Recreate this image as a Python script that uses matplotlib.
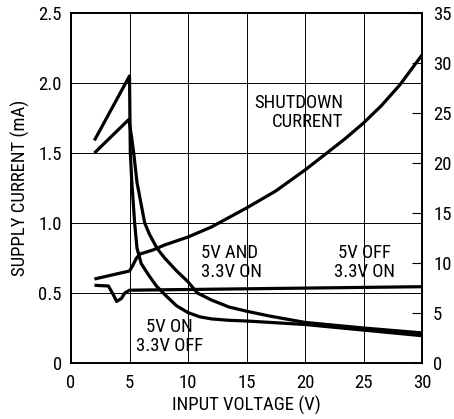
import matplotlib
matplotlib.use("Agg")
import matplotlib.pyplot as plt
from matplotlib import font_manager as fm

# ---- data ----
# upper-peak curve (steeper fall, lower tail)
va = [2, 5.0, 5.07, 5.2, 5.44, 5.64, 6.0, 6.7, 7.3, 8.0, 9.0, 10, 11, 12, 13.5, 15, 20, 25, 30]
ia = [1.59, 2.05, 1.50, 1.29, 1.00, 0.82, 0.71, 0.62, 0.55, 0.49, 0.41, 0.36, 0.33, 0.315, 0.305, 0.30, 0.275, 0.235, 0.195]
# lower-peak curve (slower fall, upper tail)
vb = [2, 4.95, 5.2, 5.36, 5.64, 6.3, 6.7, 7.35, 8.0, 9.0, 10, 10.8, 12, 13.5, 15, 17, 20, 25, 30]
ib = [1.50, 1.74, 1.60, 1.50, 1.29, 1.00, 0.92, 0.82, 0.75, 0.66, 0.58, 0.50, 0.45, 0.40, 0.37, 0.335, 0.29, 0.25, 0.215]
# "5V OFF / 3.3V ON" curve
vc = [2, 3.2, 3.6, 3.9, 4.3, 4.6, 5.0, 10, 20, 30]
ic = [0.555, 0.55, 0.49, 0.44, 0.46, 0.50, 0.52, 0.525, 0.535, 0.545]
# shutdown current (right axis, uA)
vs = [2, 5.0, 5.3, 5.6, 5.9, 7, 8, 10, 12, 15, 17.5, 20, 21.43, 23.4, 25, 26.5, 28.1, 30]
isd = [8.4, 9.2, 9.8, 10.5, 10.9, 11.3, 11.8, 12.6, 13.6, 15.5, 17.2, 19.3, 20.6, 22.4, 24.0, 25.7, 27.8, 30.8]

xticks = [0, 5, 10, 15, 20, 25, 30]
yticks = [0, 0.5, 1.0, 1.5, 2.0, 2.5]
ylabels = ["0", "0.5", "1.0", "1.5", "2.0", "2.5"]
rticks = [0, 5, 10, 15, 20, 25, 30, 35]

names = {f.name for f in fm.fontManager.ttflist}
fam = None
for cand in ['Liberation Sans Narrow', 'Roboto Condensed', 'Open Sans Condensed',
             'DejaVu Sans Condensed', 'Arial Narrow', 'Nimbus Sans Narrow']:
    if cand in names:
        fam = cand
        break
stretch = 'normal'
if fam is None:
    if any(f.name == 'DejaVu Sans' and f.stretch == 'condensed' for f in fm.fontManager.ttflist):
        fam = 'DejaVu Sans'
        stretch = 'condensed'
    else:
        fam = 'Liberation Sans'
plt.rcParams['font.family'] = [fam, 'DejaVu Sans']
plt.rcParams['font.stretch'] = stretch
FS = 13.5

fig = plt.figure(figsize=(4.54, 4.19), dpi=100)
ax = fig.add_axes([71/454, 1-363/419, (422-71)/454, (363-13)/419])
ax.set_xlim(0, 30)
ax.set_ylim(0, 2.5)
ax.set_xticks(xticks)
ax.set_yticks(yticks)
ax.set_yticklabels(ylabels)
ax.tick_params(axis='both', length=0, labelsize=FS, colors='black')
ax.tick_params(axis='x', pad=8)
ax.tick_params(axis='y', pad=6.5)
ax.grid(True, color='black', lw=0.7)
for s in ax.spines.values():
    s.set_linewidth(1.3)

lw = 2.3
ax.plot(va, ia, color='black', lw=lw, solid_joinstyle='round', solid_capstyle='butt', zorder=3)
ax.plot(vb, ib, color='black', lw=lw, solid_joinstyle='round', solid_capstyle='butt', zorder=3)
ax.plot(vc, ic, color='black', lw=lw, solid_joinstyle='round', solid_capstyle='butt', zorder=3)

ax2 = ax.twinx()
ax2.set_ylim(0, 35)
ax2.set_yticks(rticks)
ax2.tick_params(axis='y', direction='in', length=7, width=0.8, labelsize=FS, pad=8)
ax2.plot(vs, isd, color='black', lw=lw, solid_joinstyle='round', solid_capstyle='butt', zorder=3)
for s in ax2.spines.values():
    s.set_linewidth(1.3)

ax.set_xlabel("INPUT VOLTAGE (V)", fontsize=FS, labelpad=3)
ax.set_ylabel("SUPPLY CURRENT (mA)", fontsize=FS, labelpad=6)

ax.text(23.25, 1.79, "SHUTDOWN\nCURRENT", fontsize=FS, ha='right', va='center',
        multialignment='right', linespacing=1.05)
ax.text(11.15, 0.72, "5V AND\n3.3V ON", fontsize=FS, ha='left', va='center',
        multialignment='left', linespacing=1.05)
ax.text(25.1, 0.72, "5V OFF\n3.3V ON", fontsize=FS, ha='center', va='center',
        multialignment='center', linespacing=1.05)
ax.text(8.4, 0.19, "5V ON\n3.3V OFF", fontsize=FS, ha='center', va='center',
        multialignment='center', linespacing=1.05)

fig.savefig("out.png", dpi=100)
